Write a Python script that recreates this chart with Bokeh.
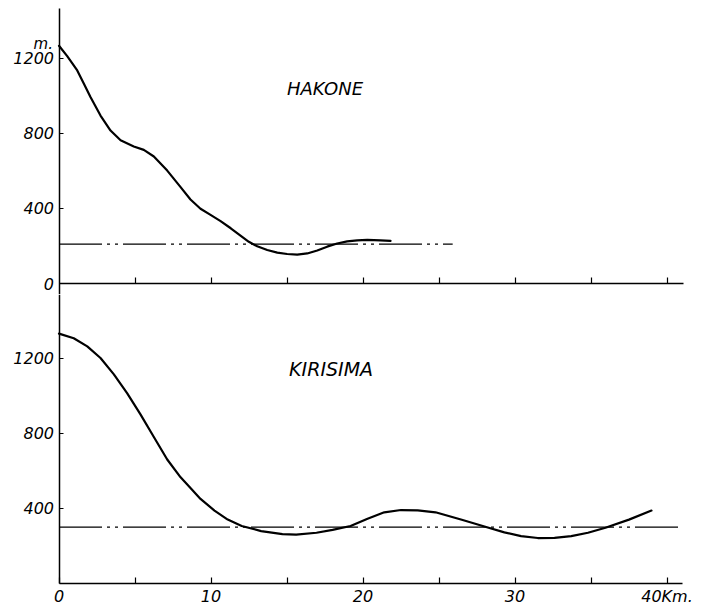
from bokeh.plotting import figure
from bokeh.layouts import column
from bokeh.models import FixedTicker, Label, Range1d
from bokeh.embed import file_html
from bokeh.resources import INLINE

# ---- data (km along profile, height in m) ----
hakone_km = [0, 0.54, 1.2, 1.63, 2.07, 2.73, 3.39, 4.05, 4.92, 5.58, 6.24, 7.12,
             8.0, 8.65, 9.31, 9.97, 10.63, 11.3, 11.94, 12.49, 13.04, 13.7, 14.36,
             15.01, 15.67, 16.33, 16.99, 17.64, 18.3, 18.96, 19.62, 20.28, 21.15, 21.81]
hakone_m = [1265, 1210, 1134, 1065, 993, 894, 814, 762, 729, 711, 676, 601,
            513, 447, 398, 365, 332, 294, 255, 222, 198, 178, 164,
            157, 154, 160, 176, 196, 213, 224, 230, 232, 230, 227]
hakone_mean_m = 210
hakone_mean_km = [0, 25.9]

kirisima_km = [0, 0.97, 1.86, 2.73, 3.61, 4.49, 5.36, 6.24, 7.12, 8.0, 8.65, 9.31,
               10.23, 11.1, 12.02, 13.3, 14.7, 15.6, 16.94, 18.0, 19.18, 20.3, 21.4,
               22.5, 23.6, 24.77, 26.5, 28.1, 29.3, 30.4, 31.5, 32.6, 33.7, 34.8,
               35.95, 37.5, 38.98]
kirisima_m = [1330, 1305, 1262, 1200, 1113, 1012, 900, 780, 660, 565, 508, 450,
              388, 340, 306, 279, 263, 260, 270, 285, 306, 345, 379,
              391, 389, 379, 339, 301, 272, 252, 242, 243, 252, 270,
              297, 340, 388]
kirisima_mean_m = 300
kirisima_mean_km = [0, 41.0]

km_major_ticks = [0, 10, 20, 30, 40]
km_minor_ticks = [5, 15, 25, 35]
km_all_ticks = [5, 10, 15, 20, 25, 30, 35, 40]
km_labels = {0: "0", 10: "10", 20: "20", 30: "30", 40: "40Km."}
m_ticks_top = [0, 400, 800, 1200]
m_ticks_bottom = [400, 800, 1200]

# ---- layout constants (pixels) ----
W = 710
PX_PER_KM = 15.2
PX_PER_M = 0.1879
X0_PX = 58.5
FONT = "DejaVu Sans"
DASHDOT = "43 5 3 5 3 5"

x_range = Range1d(-X0_PX / PX_PER_KM, (W - X0_PX) / PX_PER_KM)


def make_fig(height, zero_px_from_top):
    yr = Range1d(-(height - zero_px_from_top) / PX_PER_M, zero_px_from_top / PX_PER_M)
    p = figure(width=W, height=height, x_range=x_range, y_range=yr,
               output_backend="svg", toolbar_location=None,
               min_border=0, min_border_left=0, min_border_right=0,
               min_border_top=0, min_border_bottom=0)
    p.grid.visible = False
    p.outline_line_color = None
    p.background_fill_color = "white"
    p.border_fill_color = "white"
    for ax in (p.xaxis, p.yaxis):
        ax.fixed_location = 0
        ax.axis_line_width = 1.5
        ax.axis_line_color = "black"
        ax.major_tick_line_color = "black"
        ax.major_tick_line_width = 1.2
        ax.minor_tick_line_color = "black"
        ax.minor_tick_line_width = 1.2
        ax.major_tick_out = 0
        ax.minor_tick_out = 0
        ax.major_label_text_font = FONT
        ax.major_label_text_font_style = "italic"
        ax.major_label_text_font_size = "16px"
        ax.major_label_text_color = "black"
    p.yaxis.major_tick_in = 4
    p.yaxis.minor_tick_in = 0
    p.yaxis.major_label_standoff = 5
    p.xaxis.major_tick_in = 6
    p.xaxis.minor_tick_in = 6
    return p


# ---------------- top panel: HAKONE ----------------
top = make_fig(294, 283)
top.yaxis.ticker = FixedTicker(ticks=m_ticks_top, minor_ticks=[])
top.yaxis.bounds = (top.y_range.start, 1463)
# zero line of the upper profile: tick marks only, no labels
top.xaxis.ticker = FixedTicker(ticks=[], minor_ticks=km_all_ticks)
top.xaxis.bounds = (0, 41.1)
top.xaxis.major_label_text_color = None

top.line(hakone_mean_km, [hakone_mean_m] * len(hakone_mean_km), line_color="black",
         line_width=1.2, line_dash=DASHDOT)
top.line(hakone_km, hakone_m, line_color="black", line_width=2.2,
         line_join="round", line_cap="round")
top.add_layout(Label(x=0, y=1272, x_offset=-6, text="m.", text_align="right",
                     text_baseline="middle", text_font=FONT, text_font_style="italic",
                     text_font_size="15px", text_color="black"))
top.add_layout(Label(x=17.5, y=1038, text="HAKONE", text_align="center",
                     text_baseline="middle", text_font=FONT, text_font_style="italic",
                     text_font_size="18px", text_color="black"))

# ---------------- bottom panel: KIRISIMA ----------------
bot = make_fig(312, 289)
bot.yaxis.ticker = FixedTicker(ticks=m_ticks_bottom, minor_ticks=[])
bot.yaxis.bounds = (0, bot.y_range.end)
bot.xaxis.ticker = FixedTicker(ticks=km_major_ticks, minor_ticks=km_minor_ticks)
bot.xaxis.bounds = (0, 41.0)
bot.xaxis.major_label_overrides = km_labels
bot.xaxis.major_label_standoff = 3

bot.line(kirisima_mean_km, [kirisima_mean_m] * len(kirisima_mean_km), line_color="black",
         line_width=1.2, line_dash=DASHDOT)
bot.line(kirisima_km, kirisima_m, line_color="black", line_width=2.2,
         line_join="round", line_cap="round")
bot.add_layout(Label(x=17.9, y=1139, text="KIRISIMA", text_align="center",
                     text_baseline="middle", text_font=FONT, text_font_style="italic",
                     text_font_size="19px", text_color="black"))

layout = column(top, bot, spacing=0)
open("out.html", "w").write(file_html(layout, INLINE))
